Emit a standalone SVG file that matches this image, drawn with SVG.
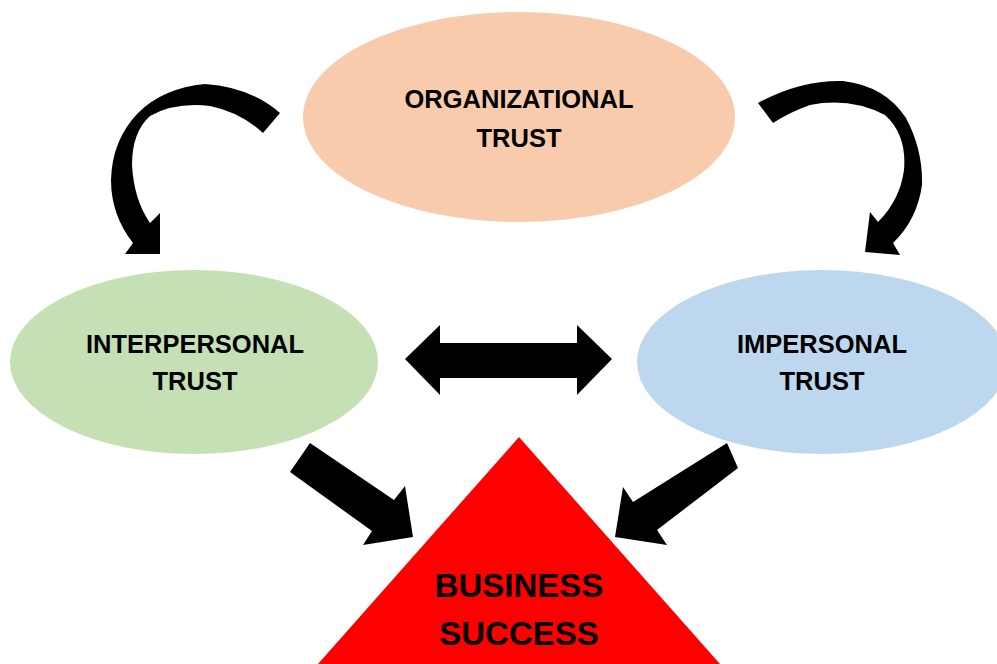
<svg xmlns="http://www.w3.org/2000/svg" width="997" height="664" viewBox="0 0 997 664">
<style>
.lbl{font-family:"Liberation Sans",Arial,sans-serif;font-weight:bold;font-size:25.5px;fill:#000;text-anchor:middle}
.big{font-size:33px}
.arr{fill:#000}
</style>
<rect width="997" height="664" fill="#fff"/>
<g id="organizational">
<ellipse cx="519" cy="117" rx="216" ry="105" fill="#F8CBAD"/>
<text class="lbl" x="519" y="108">ORGANIZATIONAL</text>
<text class="lbl" x="519" y="147">TRUST</text>
</g>
<g id="interpersonal">
<ellipse cx="194" cy="362" rx="184" ry="92" fill="#C5E0B4"/>
<text class="lbl" x="195" y="353">INTERPERSONAL</text>
<text class="lbl" x="195" y="390">TRUST</text>
</g>
<g id="impersonal">
<ellipse cx="822" cy="362" rx="185" ry="92" fill="#BDD7EE"/>
<text class="lbl" x="822" y="353">IMPERSONAL</text>
<text class="lbl" x="822" y="390">TRUST</text>
</g>
<g id="business">
<polygon points="519,437 318,664 720,664" fill="#FF0000"/>
<text class="lbl big" x="519" y="597">BUSINESS</text>
<text class="lbl big" x="519" y="645">SUCCESS</text>
</g>
<g id="connectors">
<path class="arr" d="M280,113 Q250,87 205,84 Q163,88 138,113 Q112,140 111,180 Q111,215 133,243 L125,254 L160,254 L160,213 L150,223 Q134,200 132,165 Q132,132 150,116 Q175,102 210,106 Q240,112 263,133 Z"/>
<path class="arr" d="M758,103 Q800,80 843,81 Q885,86 906,118 Q923,150 922,185 Q917,220 893,243 L900,255 L865,252 L870,212 L878,222 Q900,200 904,170 Q907,135 885,115 Q850,97 810,105 Q790,112 773,123 Z"/>
<polygon class="arr" points="405,359 440,325 440,343 577,343 577,325 612,359 577,395 577,378 440,378 440,395"/>
<polygon class="arr" points="310,443 394,500 405,486 413,537 363,545 372,531 290,472"/>
<polygon class="arr" points="727,443 738,468 657,530 667,545 615,537 623,487 633,502"/>
</g>
</svg>
